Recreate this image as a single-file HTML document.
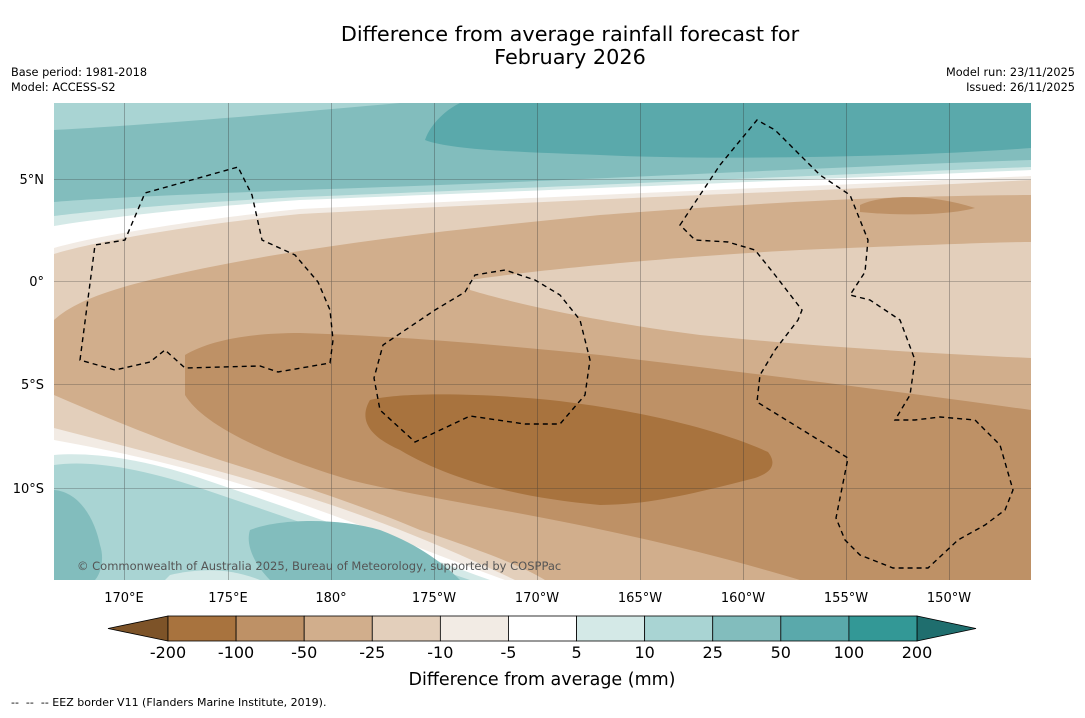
<!DOCTYPE html>
<html><head><meta charset="utf-8"><style>
body{margin:0;background:#fff;width:1085px;height:713px;overflow:hidden;font-family:"Liberation Sans",sans-serif}
svg text{font-family:"DejaVu Sans","Liberation Sans",sans-serif}
</style></head><body>
<svg id="c" width="1085" height="713" viewBox="0 0 1085 713">
<text x="570" y="41" font-size="20.8" text-anchor="middle">Difference from average rainfall forecast for</text>
<text x="570" y="64" font-size="20.8" text-anchor="middle">February 2026</text>
<text x="11" y="76" font-size="11.3">Base period: 1981-2018</text>
<text x="11" y="91" font-size="11.3">Model: ACCESS-S2</text>
<text x="1075" y="76" font-size="11.3" text-anchor="end">Model run: 23/11/2025</text>
<text x="1075" y="91" font-size="11.3" text-anchor="end">Issued: 26/11/2025</text>
<defs><clipPath id="mc"><rect x="54" y="103" width="977" height="477"/></clipPath></defs>
<g clip-path="url(#mc)">
<rect x="54" y="103" width="977" height="477" fill="#d1ae8c"/>
<path d="M54,103H1031V195C900,196 800,200 600,215C450,230 300,245 150,280C100,292 70,305 54,320Z" fill="#e3cfbb"/>
<path d="M54,103H1031V180C800,192 600,198 300,214C200,224 100,240 54,254Z" fill="#f2ebe4"/>
<path d="M54,103H1031V176C800,187 600,194 300,209C200,219 100,235 54,248Z" fill="#fff"/>
<path d="M54,103H1031V170C800,180 600,188 300,200C200,207 100,218 54,226Z" fill="#d4e9e7"/>
<path d="M54,103H1031V167C800,176 600,185 300,197C200,202 100,210 54,216Z" fill="#a9d4d3"/>
<path d="M54,103H1031V160C800,168 600,180 300,190C200,194 100,198 54,202Z" fill="#82bdbd"/>
<path d="M54,103H400C300,112 150,125 54,130Z" fill="#a9d4d3"/>
<path d="M460,103H1031V148C900,158 700,160 600,155C520,152 450,150 425,140C430,125 445,110 460,103Z" fill="#5aa9ab"/>
<path d="M470,280C550,268 700,255 800,250C900,246 1000,242 1031,242V358C900,352 800,345 700,335C600,322 520,305 470,290Z" fill="#e3cfbb"/>
<path d="M185,355C210,340 250,333 300,333C400,336 500,345 600,355C700,367 850,385 1031,410V580H800C600,520 450,505 350,480C250,450 200,420 185,395Z" fill="#be9166"/>
<path d="M860,205C880,195 930,193 975,208C950,215 900,216 860,212Z" fill="#be9166"/>
<path d="M370,400C400,392 480,393 550,400C640,410 720,430 768,452C778,465 770,473 755,478C700,492 650,505 600,505C520,498 450,480 400,450C370,437 358,420 370,400Z" fill="#a8733e"/>
<path d="M54,395C100,415 160,440 220,460C300,485 360,505 420,530C480,550 520,565 545,580H54Z" fill="#e3cfbb"/>
<path d="M54,428C120,445 180,460 250,480C340,505 420,535 515,580H54Z" fill="#f2ebe4"/>
<path d="M54,440C120,452 180,465 250,487C330,512 410,545 505,580H54Z" fill="#fff"/>
<path d="M54,455C90,452 140,458 200,478C280,505 380,540 490,580H54Z" fill="#d4e9e7"/>
<path d="M54,465C90,460 140,468 200,488C280,515 380,550 470,580H54Z" fill="#a9d4d3"/>
<path d="M54,490C80,492 95,520 100,545C105,560 100,575 95,580H54Z" fill="#82bdbd"/>
<path d="M250,530C280,518 340,518 380,530C420,545 445,565 460,580H270C255,565 245,545 250,530Z" fill="#82bdbd"/>
<path d="M170,575C200,568 230,568 260,580H165Z" fill="#d4e9e7"/>
<g stroke="#333" stroke-width="0.6" opacity="0.55">
<line x1="124.5" y1="103" x2="124.5" y2="580"/><line x1="228.5" y1="103" x2="228.5" y2="580"/><line x1="331.5" y1="103" x2="331.5" y2="580"/><line x1="434.5" y1="103" x2="434.5" y2="580"/><line x1="537.5" y1="103" x2="537.5" y2="580"/><line x1="640.5" y1="103" x2="640.5" y2="580"/><line x1="743.5" y1="103" x2="743.5" y2="580"/><line x1="846.5" y1="103" x2="846.5" y2="580"/><line x1="949.5" y1="103" x2="949.5" y2="580"/>
<line x1="54" y1="179.5" x2="1031" y2="179.5"/><line x1="54" y1="281.5" x2="1031" y2="281.5"/><line x1="54" y1="384.5" x2="1031" y2="384.5"/><line x1="54" y1="488.5" x2="1031" y2="488.5"/>
</g>
<g fill="none" stroke="#000" stroke-width="1.4" stroke-dasharray="5,4">
<path d="M80,360L95,245L125,240L145,193L238,167L252,195L262,240L295,255L318,282L330,310L333,340L330,363L278,372L260,366L185,368L165,350L150,362L115,370Z"/>
<path d="M465,292L475,275L505,270L535,280L560,295L580,320L590,360L585,395L560,424L525,424L470,416L415,442L380,410L374,378L383,345L435,310Z"/>
<path d="M680,225L720,165L757,120L775,130L820,175L850,195L868,240L865,272L850,295L870,300L900,320L915,360L910,395L895,420L915,420L940,417L975,420L1000,445L1013,490L1005,510L985,525L958,540L928,568L893,568L860,555L845,540L836,518L848,458L757,402L760,375L775,350L798,320L802,310L775,275L755,250L728,242L695,240Z"/>
</g>
<text x="77" y="570" font-size="11.5" fill="#555">© Commonwealth of Australia 2025, Bureau of Meteorology, supported by COSPPac</text>
</g>
<g font-size="13">
<text x="44" y="184" text-anchor="end">5°N</text><text x="44" y="286" text-anchor="end">0°</text><text x="44" y="389" text-anchor="end">5°S</text><text x="44" y="493" text-anchor="end">10°S</text>
</g>
<g font-size="13" text-anchor="middle">
<text x="124" y="602">170°E</text><text x="228" y="602">175°E</text><text x="331" y="602">180°</text><text x="434" y="602">175°W</text><text x="537" y="602">170°W</text><text x="640" y="602">165°W</text><text x="743" y="602">160°W</text><text x="846" y="602">155°W</text><text x="949" y="602">150°W</text>
</g>
<g id="cb"></g>
<text x="542" y="685" font-size="17.5" text-anchor="middle">Difference from average (mm)</text>
<text x="11" y="706" font-size="11" xml:space="preserve">--  --  -- EEZ border V11 (Flanders Marine Institute, 2019).</text>
</svg>
<script>
const levels=["-200","-100","-50","-25","-10","-5","5","10","25","50","100","200"];
const binColors=["#a8733e","#be9166","#d1ae8c","#e3cfbb","#f2ebe4","#fff","#d4e9e7","#a9d4d3","#82bdbd","#5aa9ab","#339896"];
const lowColor="#7d5328", highColor="#1f6e6e";
const cb=document.getElementById('cb'), NS="http://www.w3.org/2000/svg";
const x0=168,x1=917,y0=616,h=25,w=(x1-x0)/(levels.length-1);
function xs(i){return x0+i*w;}
function mk(t,a){const e=document.createElementNS(NS,t);for(const k in a)e.setAttribute(k,a[k]);cb.appendChild(e);return e;}
let lt=mk('polygon',{points:`${x0},${y0} ${x0},${y0+h} 108,${y0+h/2}`,fill:lowColor,stroke:'#000','stroke-width':0.8});


let ht=mk('polygon',{points:`${x1},${y0} ${x1},${y0+h} 976,${y0+h/2}`,fill:highColor,stroke:'#000','stroke-width':0.8});


binColors.forEach((c,i)=>{
 const r=mk('rect',{x:xs(i),y:y0,width:w,height:h,fill:c,stroke:'#000','stroke-width':0.8});
 
 
});
levels.forEach((l,i)=>{
 const t=mk('text',{x:xs(i),y:658,'font-size':16,'text-anchor':'middle'});
 t.textContent=l;
 
 
});
</script>
</body></html>
